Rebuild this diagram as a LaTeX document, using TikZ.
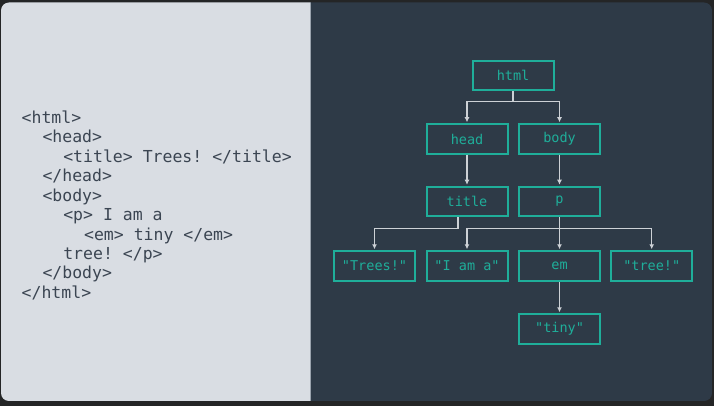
\documentclass[tikz,border=0pt]{standalone}
\usepackage{fontspec}
\setmonofont{DejaVu Sans Mono}
\usetikzlibrary{arrows.meta}
\definecolor{outerbg}{HTML}{242526}
\definecolor{leftbg}{HTML}{D9DDE3}
\definecolor{rightbg}{HTML}{2E3A47}
\definecolor{codecol}{HTML}{3B4552}
\definecolor{tealc}{HTML}{1FAE9A}
\definecolor{connc}{HTML}{CDD1D6}
\definecolor{divc}{HTML}{9AA3AD}
\tikzset{
  codeline/.style={anchor=base west, inner sep=0, text=codecol, font=\fontsize{16.5}{19.5}\selectfont\ttfamily},
  treebox/.style={draw=tealc, line width=2pt, minimum width=81pt, minimum height=29.5pt, inner sep=0, text=tealc, font=\fontsize{13.5}{16}\selectfont\ttfamily},
  conn/.style={draw=connc, line width=1.4pt, -{Latex[length=5pt,width=5pt]}, shorten >=1pt},
  connplain/.style={draw=connc, line width=1.4pt}
}
\begin{document}
\begin{tikzpicture}[x=1pt,y=-1pt]
\useasboundingbox (0,0) rectangle (714,406);
\fill[outerbg] (0,0) rectangle (714,406);
\begin{scope}
  \clip[rounded corners=8pt] (1,2.5) rectangle (712,401);
  \fill[leftbg] (1,2.5) rectangle (310,401);
  \fill[rightbg] (310,2.5) rectangle (712,401);
  \draw[divc, line width=0.8pt] (310,2.5) -- (310,401);
\end{scope}
% code lines
\node[codeline] (l1) at (21.5,123.3) {<html>};
\node[codeline] (l2) at (42.3,142.8) {<head>};
\node[codeline] (l3) at (63.1,162.2) {<title> Trees! </title>};
\node[codeline] (l4) at (42.3,181.7) {</head>};
\node[codeline] (l5) at (42.3,201.1) {<body>};
\node[codeline] (l6) at (63.1,220.6) {<p> I am a};
\node[codeline] (l7) at (83.9,240.0) {<em> tiny </em>};
\node[codeline] (l8) at (63.1,259.5) {tree! </p>};
\node[codeline] (l9) at (42.3,278.9) {</body>};
\node[codeline] (l10) at (21.5,298.4) {</html>};
% tree nodes
\node[treebox] (html) at (513,75.5) {html};
\node[treebox] (head) at (467,139) {head};
\node[treebox] (body) at (559.5,139) {body};
\node[treebox] (title) at (467,201.5) {title};
\node[treebox] (p) at (559.5,201.5) {p};
\node[treebox] (trees) at (374.5,266) {"Trees!"};
\node[treebox] (iam) at (467,266) {"I am a"};
\node[treebox] (em) at (559.5,266) {em};
\node[treebox] (tree) at (651.7,266) {"tree!"};
\node[treebox] (tiny) at (559.5,329) {"tiny"};
% connectors
\draw[connplain] (html.south) -- ++(0,10) coordinate (hj);
\draw[conn] (hj) -| (head.north);
\draw[conn] (hj) -| (body.north);
\draw[conn] (head.south) -- (title.north);
\draw[conn] (body.south) -- (p.north);
\draw[conn] ([xshift=-9pt]title.south) -- ++(0,11.5) -| (trees.north);
\draw[conn] (p.south) -- (em.north);
\path (p.south) ++(0,11.5) coordinate (pj);
\draw[conn] (pj) -| (iam.north);
\draw[conn] (pj) -| (tree.north);
\draw[conn] (em.south) -- (tiny.north);
\end{tikzpicture}
\end{document}
